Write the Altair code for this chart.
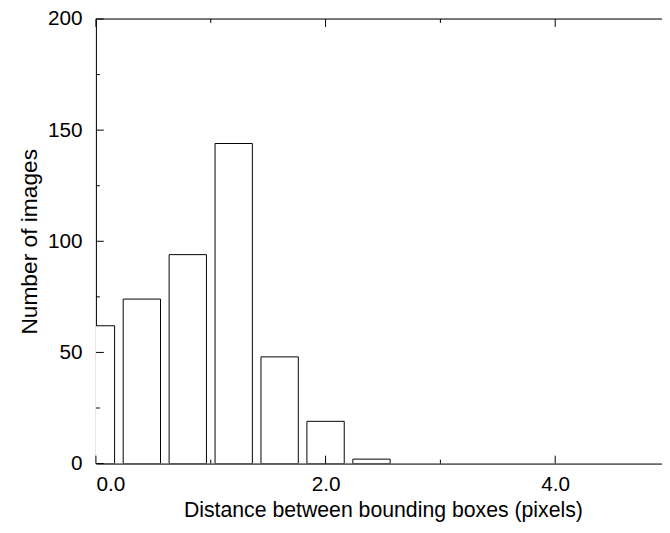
import altair as alt
import pandas as pd

# data
centers = [0.0, 0.4, 0.8, 1.2, 1.6, 2.0, 2.4]
counts = [62, 74, 94, 144, 48, 19, 2]
x_major = [0.0, 2.0, 4.0]
x_minor = [1.0, 3.0]
y_major = [0, 50, 100, 150, 200]
y_minor = [25, 75, 125, 175]

W = 573   # plot runs to x=4.93 (the window cuts the frame there)
H = 450
FONT = "Liberation Sans"
LFS = 21

df = pd.DataFrame({"center": centers, "count": counts})
xs = alt.Scale(domain=[0, 4.93], nice=False, zero=False)
ys = alt.Scale(domain=[0, 200], nice=False)

x_axis = alt.Axis(
    title="Distance between bounding boxes (pixels)",
    values=x_major, format=".1f", ticks=False, tickSize=0, grid=False,
    labelPadding=10, titlePadding=6, titleX=290.5,
    domainColor="black", domainWidth=1,
    labelFont=FONT, labelFontSize=LFS, labelColor="black",
    titleFont=FONT, titleFontSize=21.5, titleColor="black", titleFontWeight="normal")
y_axis = alt.Axis(
    title="Number of images",
    values=y_major, ticks=False, tickSize=0, grid=False,
    labelPadding=14, titlePadding=6, domainColor="black", domainWidth=1,
    labelFont=FONT, labelFontSize=LFS, labelColor="black",
    titleFont=FONT, titleFontSize=23, titleColor="black", titleFontWeight="normal")

bars = alt.Chart(df).transform_calculate(
    x0="datum.center - 0.1625", x1="datum.center + 0.1625"
).mark_rect(fill="white", stroke="black", strokeWidth=1, clip=True).encode(
    x=alt.X("x0:Q", scale=xs, axis=x_axis),
    x2="x1:Q",
    y=alt.Y("count:Q", scale=ys, axis=y_axis),
    y2=alt.datum(0),
)

def yticks(vals, length):
    return alt.Chart(pd.DataFrame({"v": vals})).mark_rule(color="black", strokeWidth=1).encode(
        y=alt.Y("v:Q", scale=ys, axis=y_axis), x=alt.value(0), x2=alt.value(length))

def xticks(vals, length, top):
    if top:
        return alt.Chart(pd.DataFrame({"v": vals})).mark_rule(color="black", strokeWidth=1).encode(
            x=alt.X("v:Q", scale=xs, axis=x_axis), y=alt.value(0), y2=alt.value(length))
    return alt.Chart(pd.DataFrame({"v": vals})).mark_rule(color="black", strokeWidth=1).encode(
        x=alt.X("v:Q", scale=xs, axis=x_axis), y=alt.value(H), y2=alt.value(H - length))

top_border = alt.Chart(pd.DataFrame({"v": [200]})).mark_rule(color="black", strokeWidth=1).encode(
    y=alt.Y("v:Q", scale=ys, axis=y_axis), x=alt.value(0), x2=alt.value(W))

chart = alt.layer(
    bars,
    yticks(y_major, 8), yticks(y_minor, 4),
    xticks(x_major, 8, False), xticks(x_minor, 4, False),
    xticks(x_major, 8, True), xticks(x_minor, 4, True),
    top_border,
).properties(
    width=W, height=H,
    autosize=alt.AutoSizeParams(type="none"),
    padding={"left": 89, "top": 8, "right": 0, "bottom": 57},
).configure_view(stroke=None).configure(background="white")

chart.save("out.html", embed_options={"renderer": "svg", "actions": False})
